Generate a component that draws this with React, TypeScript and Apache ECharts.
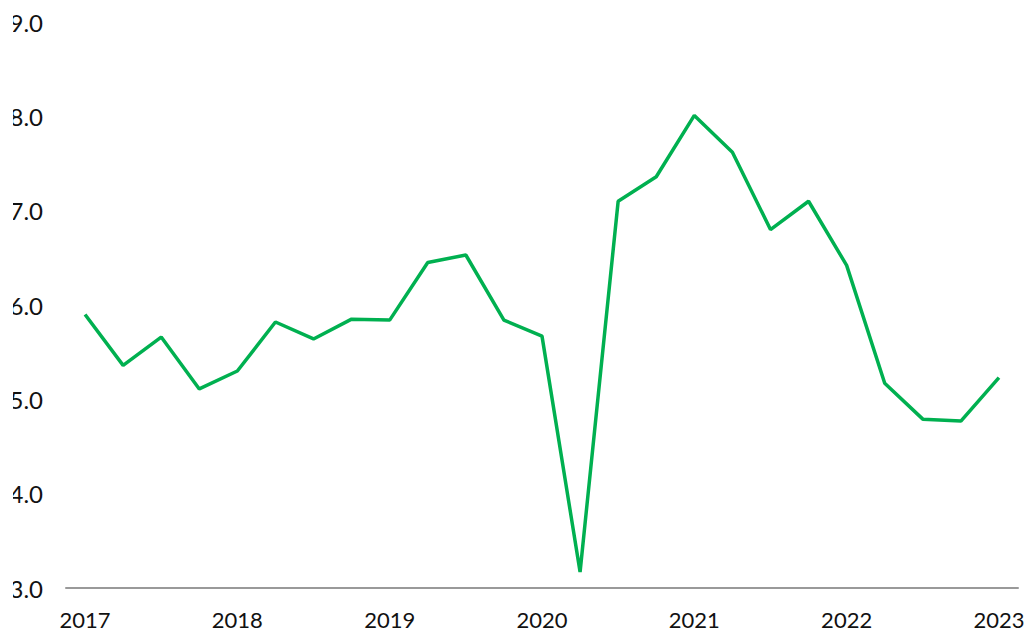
import React, { useEffect, useRef } from "react";
import * as echarts from "echarts";

const quarters: string[] = [
  "2017Q1", "2017Q2", "2017Q3", "2017Q4",
  "2018Q1", "2018Q2", "2018Q3", "2018Q4",
  "2019Q1", "2019Q2", "2019Q3", "2019Q4",
  "2020Q1", "2020Q2", "2020Q3", "2020Q4",
  "2021Q1", "2021Q2", "2021Q3", "2021Q4",
  "2022Q1", "2022Q2", "2022Q3", "2022Q4",
  "2023Q1",
];

const values: number[] = [
  5.9, 5.36, 5.66, 5.11,
  5.3, 5.82, 5.64, 5.85,
  5.84, 6.45, 6.53, 5.84,
  5.67, 3.17, 7.1, 7.36,
  8.01, 7.62, 6.8, 7.1,
  6.42, 5.17, 4.79, 4.77,
  5.23,
];

const yMin = 3;
const yMax = 9;
const yStep = 1;

export default function App() {
  const ref = useRef<HTMLDivElement>(null);
  useEffect(() => {
    if (!ref.current) return;
    const chart = echarts.init(ref.current, undefined, { renderer: "svg" });
    chart.setOption({
      animation: false,
      backgroundColor: "#ffffff",
      grid: {
        left: 53,
        right: 9,
        top: 22,
        bottom: 45,
        containLabel: false,
        outerBoundsMode: "none",
      },
      xAxis: {
        type: "category",
        data: quarters,
        boundaryGap: true,
        axisLine: { show: true, lineStyle: { color: "#999999", width: 2 } },
        axisTick: { show: false },
        axisLabel: {
          interval: 3,
          margin: 20,
          color: "#111111",
          fontFamily: "Lato",
          fontSize: 22,
          formatter: (v: string) => v.slice(0, 4),
        },
        splitLine: { show: false },
      },
      yAxis: {
        type: "value",
        min: yMin,
        max: yMax,
        interval: yStep,
        axisLine: { show: false },
        axisTick: { show: false },
        splitLine: { show: false },
        axisLabel: {
          margin: 23,
          color: "#111111",
          fontFamily: "Lato",
          fontSize: 24,
          formatter: (v: number) => v.toFixed(1),
        },
      },
      series: [
        {
          type: "line",
          data: values,
          showSymbol: false,
          symbol: "none",
          lineStyle: { color: "#00b050", width: 3.5 },
          itemStyle: { color: "#00b050" },
        },
      ],
    });
    return () => chart.dispose();
  }, []);
  return (
    <div
      ref={ref}
      style={{ position: "absolute", left: 13, top: 0, width: 1014, height: 633, overflow: "hidden" }}
    />
  );
}
